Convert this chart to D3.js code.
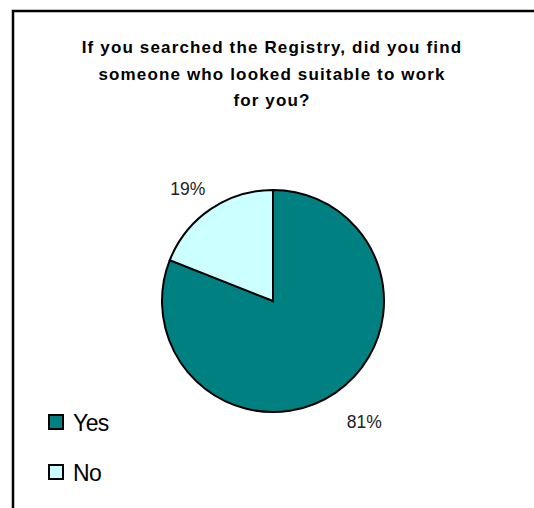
<!DOCTYPE html>
<html>
<head>
<meta charset="utf-8">
<script src="https://cdn.jsdelivr.net/npm/d3@7"></script>
<style>
  html, body { margin: 0; padding: 0; background: #fff; }
  svg { display: block; }
</style>
</head>
<body>
<svg id="chart" width="534" height="508"></svg>
<script>
// Survey answers
const categories = ["Yes", "No"];
const values = [81, 19];
const colors = ["#008080", "#CCFFFF"];
const titleLines = [
  "If you searched the Registry, did you find",
  "someone who looked suitable to work",
  "for you?"
];

const svg = d3.select("#chart");
const font = "'Liberation Sans', Arial, Helvetica, sans-serif";

// Chart frame (open on the right and bottom edges)
svg.append("path")
  .attr("d", "M13,508 V11 H534")
  .attr("fill", "none")
  .attr("stroke", "#000")
  .attr("stroke-width", 2.5);

// Title
svg.append("g")
  .selectAll("text")
  .data(titleLines)
  .join("text")
  .attr("x", 272)
  .attr("y", (d, i) => 53 + i * 26.5)
  .attr("text-anchor", "middle")
  .attr("font-family", font)
  .attr("font-weight", "bold")
  .attr("font-size", "17px")
  .attr("letter-spacing", "1.15px")
  .attr("fill", "#000")
  .text(d => d);

// Pie
const cx = 273, cy = 301, r = 111;
const pie = d3.pie().sort(null).value(d => d.value);
const arcs = pie(categories.map((c, i) => ({ cat: c, value: values[i], color: colors[i] })));
const arc = d3.arc().innerRadius(0).outerRadius(r);

const g = svg.append("g").attr("transform", `translate(${cx},${cy})`);
g.selectAll("path")
  .data(arcs)
  .join("path")
  .attr("d", arc)
  .attr("fill", d => d.data.color)
  .attr("stroke", "#000")
  .attr("stroke-width", 2)
  .attr("stroke-linejoin", "miter");

// Percentage labels placed outside each slice, near its mid angle
const labelRadius = { Yes: 151, No: 141 };
const labelTurn = -0.053;
g.selectAll("text.pct")
  .data(arcs)
  .join("text")
  .attr("class", "pct")
  .attr("transform", d => {
    const lr = labelRadius[d.data.cat];
    const a = (d.startAngle + d.endAngle) / 2 + labelTurn;
    return `translate(${lr * Math.sin(a)},${-lr * Math.cos(a)})`;
  })
  .attr("dy", "0.36em")
  .attr("text-anchor", "middle")
  .attr("font-family", font)
  .attr("font-size", "17.5px")
  .attr("fill", "#222")
  .text(d => Math.round(d.data.value) + "%");

// Legend
const legend = svg.append("g");
const items = legend.selectAll("g")
  .data(categories)
  .join("g")
  .attr("transform", (d, i) => `translate(49, ${415 + i * 50})`);
items.append("rect")
  .attr("width", 14)
  .attr("height", 14)
  .attr("fill", (d, i) => colors[i])
  .attr("stroke", "#000")
  .attr("stroke-width", 2);
items.append("text")
  .attr("x", 24)
  .attr("y", 16)
  .attr("font-family", font)
  .attr("font-size", "23px")
  .attr("letter-spacing", "-0.6px")
  .attr("fill", "#000")
  .text(d => d);
</script>
</body>
</html>
